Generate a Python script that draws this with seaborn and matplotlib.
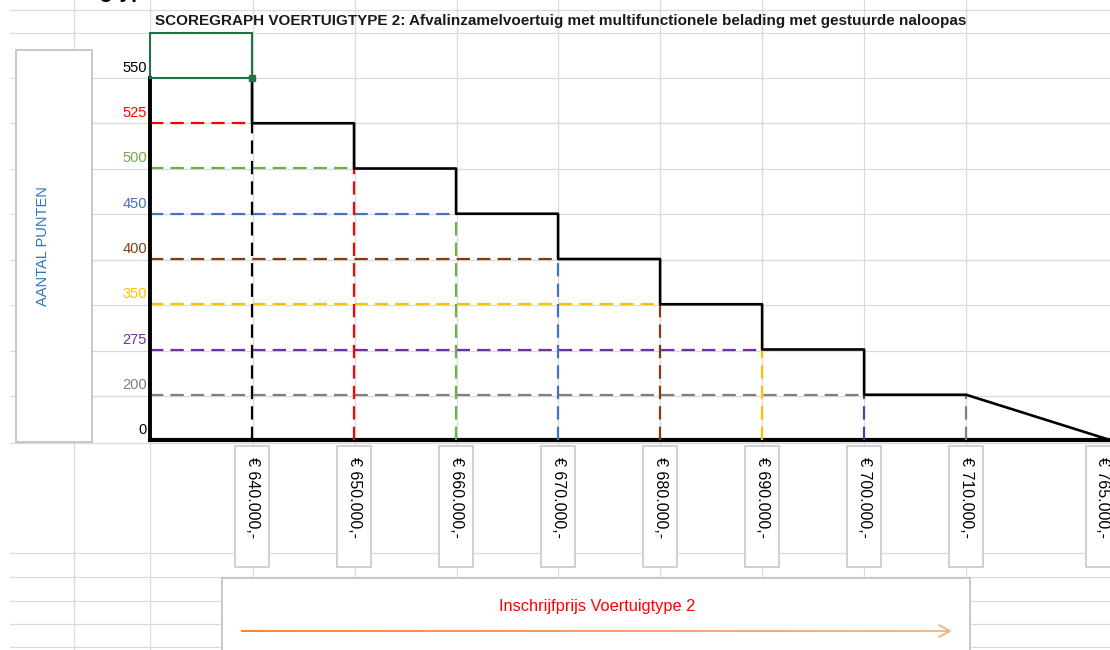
import numpy as np
import pandas as pd
import matplotlib
matplotlib.use('Agg')
import matplotlib.pyplot as plt
import matplotlib.transforms as mtransforms
from matplotlib.patches import Rectangle
from matplotlib.collections import LineCollection
from matplotlib.colors import to_rgb
import seaborn as sns

# Score graph data (price in euro, points awarded)
prices = [640000, 650000, 660000, 670000, 680000, 690000, 700000, 710000, 765000]
points = [550, 525, 500, 450, 400, 350, 275, 200, 0]
point_colors = ['#000000', '#FF0000', '#70AD47', '#4472C4', '#843C0C',
                '#FFC000', '#7030A0', '#7F7F7F', '#000000']
price_labels = ['€ 640.000,-', '€ 650.000,-', '€ 660.000,-', '€ 670.000,-', '€ 680.000,-',
                '€ 690.000,-', '€ 700.000,-', '€ 710.000,-', '€ 765.000,-']
title = 'SCOREGRAPH VOERTUIGTYPE 2: Afvalinzamelvoertuig met multifunctionele belading met gestuurde naloopas'
y_title = 'AANTAL PUNTEN'
x_title = 'Inschrijfprijs Voertuigtype 2'

sns.set_style('white')
plt.rcParams['font.family'] = ['Liberation Sans', 'DejaVu Sans']

# schematic graph: levels and prices are drawn evenly spaced
levels = sorted(points)
lvl = {v: i for i, v in enumerate(levels)}
col = dict(zip(points, point_colors))
xpos = np.arange(len(prices), dtype=float)
xpos[-1] = xpos[-2] + 1.41  # sloped tail is drawn wider

fig = plt.figure(figsize=(11.1, 6.5), dpi=100)

# spreadsheet background in pixel coordinates
bg = fig.add_axes([0, 0, 1, 1], zorder=0)
bg.set_xlim(0, 1110)
bg.set_ylim(650, 0)
bg.axis('off')
grid_c = '#DADADA'
for cx in [74, 150, 253, 355, 457, 558, 660, 762, 864, 966]:
    bg.plot([cx, cx], [0, 650], color=grid_c, lw=0.9, zorder=1)
for ry in [10, 33, 78, 123, 169, 214, 260, 305, 351, 396, 443, 553, 577, 601, 624, 647]:
    bg.plot([10, 1110], [ry, ry], color=grid_c, lw=0.9, zorder=1)

# heading above the sheet, scrolled mostly out of view
bg.text(157, -2, 'Voertuigtype', ha='right', va='baseline', fontsize=15,
        fontweight='bold', color='black')

bg.text(155, 21, title, ha='left', va='center', fontsize=11, fontweight='bold',
        color='#1a1a1a')

# y title box
bg.add_patch(Rectangle((16, 50), 76, 392, fc='white', ec='#C4C4C4', lw=1.3, zorder=2))
bg.text(43, 246, y_title, rotation=90, ha='center', va='center', fontsize=10.5,
        color='#2E75B6', zorder=3)

# x title box with arrow
bg.add_patch(Rectangle((222, 578), 748, 90, fc='white', ec='#C4C4C4', lw=1.3, zorder=2))
bg.text(597, 606, x_title, ha='center', va='center', fontsize=11.8, color='#FF0000', zorder=3)
ax_x = np.linspace(241, 949, 120)
segs = [[(ax_x[i], 631), (ax_x[i + 1], 631)] for i in range(len(ax_x) - 1)]
c0, c1 = np.array(to_rgb('#ED7D31')), np.array(to_rgb('#F4B183'))
seg_cols = [tuple(c0 + (c1 - c0) * t) for t in np.linspace(0, 1, len(segs))]
bg.add_collection(LineCollection(segs, colors=seg_cols, linewidths=1.3, zorder=3))
bg.plot([939, 950, 939], [625, 631, 637], color='#F4B183', lw=1.3, zorder=3)

# chart area
ax = fig.add_axes([150 / 1110, 210 / 650, 960 / 1110, 362 / 650], zorder=1)
ax.patch.set_alpha(0)
ax.set_xlim(-1, xpos[-1])
ax.set_ylim(0, len(levels) - 1)
ax.set_xticks([])
ax.set_yticks([])
for s in ['top', 'right']:
    ax.spines[s].set_visible(False)
ax.spines['left'].set_linewidth(2.8)
ax.spines['bottom'].set_linewidth(3.0)
ax.spines['left'].set_color('black')
ax.spines['bottom'].set_color('black')

dash = (0, (6, 3.2))
n = len(prices)
# horizontal guides from the axis to each step
for i in range(1, n - 1):
    ax.hlines(lvl[points[i]], -1, xpos[i - 1], colors=col[points[i]], lw=1.6,
              linestyles=dash, zorder=2)
# vertical guides from each price down to the axis
for j in range(n - 1):
    top = lvl[points[j + 1]] if j < n - 2 else lvl[points[j]]
    ax.vlines(xpos[j], 0, top, colors=col[points[j]], lw=1.6, linestyles=dash, zorder=3)

# step line (the top segment is covered by the selected cell border)
sx, sy = [], []
for i in range(n - 2):
    sx += [xpos[i], xpos[i]]
    sy += [lvl[points[i]], lvl[points[i + 1]]]
    sx += [xpos[i + 1]]
    sy += [lvl[points[i + 1]]]
sx += [xpos[n - 1]]
sy += [lvl[points[n - 1]]]
step = pd.DataFrame({'x': sx, 'y': sy})
sns.lineplot(data=step, x='x', y='y', sort=False, estimator=None, color='black',
             lw=1.9, ax=ax, zorder=4, clip_on=False)
ax.set_xlabel('')
ax.set_ylabel('')

# y tick labels
lab_tr = mtransforms.offset_copy(ax.transData, fig=fig, x=-3, y=10, units='dots')
for v in levels:
    ax.text(-1, lvl[v], str(v), transform=lab_tr, ha='right', va='center',
            fontsize=10.5, color=col[v])

# selected cell
ax.add_patch(Rectangle((-1, len(levels) - 1), 1, 1, fill=False, ec='#217346', lw=1.5,
                       clip_on=False, zorder=5))
ax.plot([0], [len(levels) - 1], marker='s', ms=4.5, color='#217346', clip_on=False, zorder=6)

# x tick label boxes
trans = mtransforms.blended_transform_factory(ax.transData, bg.transData)
for k, (xp, lab) in enumerate(zip(xpos, price_labels)):
    shift = -7 if k == n - 1 else 0
    tr = mtransforms.offset_copy(trans, fig=fig, x=shift, units='dots')
    bg.add_patch(Rectangle((xp - 0.165, 446), 0.33, 121, transform=tr, fc='white',
                           ec='#C4C4C4', lw=1.1, zorder=2))
    bg.text(xp, 457, lab, transform=tr, rotation=270, ha='center', va='top',
            fontsize=11.5, color='black', zorder=3)

fig.savefig('out.png', dpi=100)
